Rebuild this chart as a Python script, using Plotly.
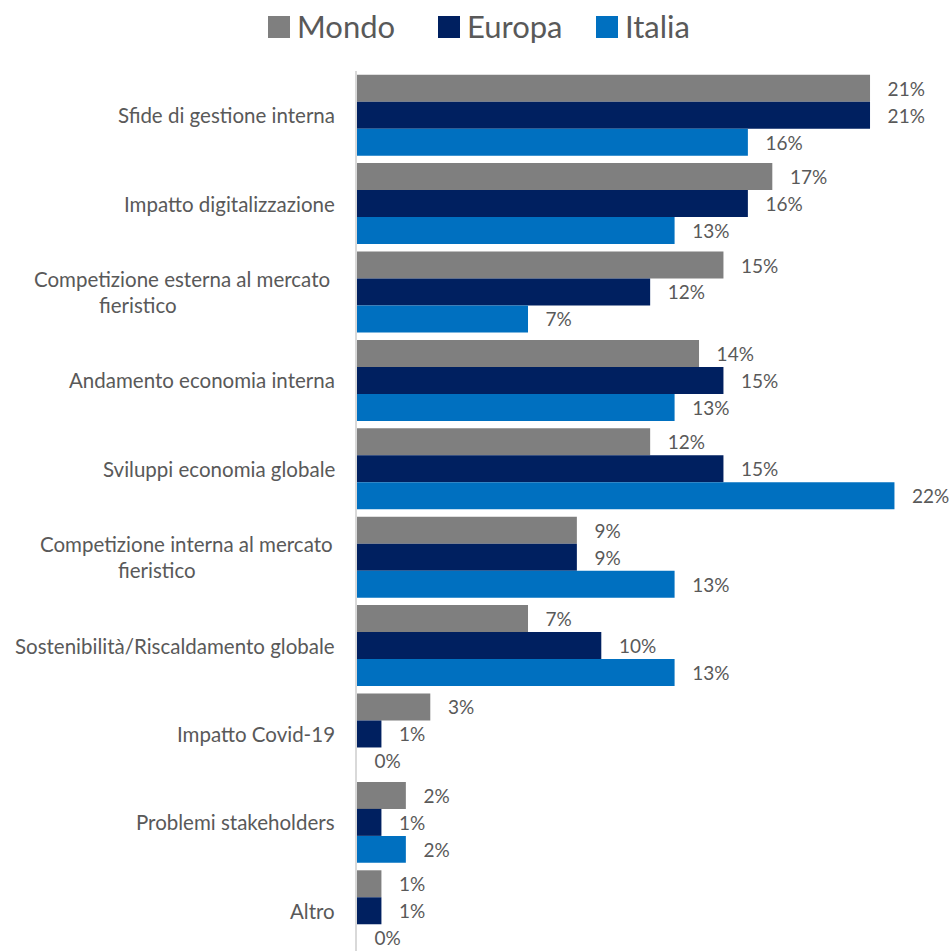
import plotly.graph_objects as go

# Survey categories, top to bottom
categories = [
    "Sfide di gestione interna",
    "Impatto digitalizzazione",
    "Competizione esterna al mercato fieristico",
    "Andamento economia interna",
    "Sviluppi economia globale",
    "Competizione interna al mercato fieristico",
    "Sostenibilità/Riscaldamento globale",
    "Impatto Covid-19",
    "Problemi stakeholders",
    "Altro",
]

# Share of answers (%) per area
mondo = [21, 17, 15, 14, 12, 9, 7, 3, 2, 1]
europa = [21, 16, 12, 15, 15, 9, 10, 1, 1, 1]
italia = [16, 13, 7, 13, 22, 13, 13, 0, 2, 0]

series_names = ["Mondo", "Europa", "Italia"]
series_colors = ["#7f7f7f", "#002060", "#0070c0"]

FONT = "Lato"
TEXT_COLOR = "#595959"
LABEL_SIZE = 20.5

# pixel geometry of the plotting area
W, H = 949, 951
L, T = 357, 71
PW, PH = W - L, H - T


def px_x(x):
    return (x - L) / PW


def px_y(y):
    return 1 - (y - T) / PH


fig = go.Figure()
for name, vals, color in zip(series_names, [mondo, europa, italia], series_colors):
    fig.add_trace(go.Bar(
        name=name,
        y=categories,
        x=vals,
        orientation="h",
        marker=dict(color=color, line=dict(width=0)),
        texttemplate="\u00a0\u00a0\u00a0%{x}%",
        textposition="outside",
        textfont=dict(family=FONT, size=19, color=TEXT_COLOR),
        cliponaxis=False,
        showlegend=False,
    ))

annotations = []
# category labels, right-aligned next to the axis
two_line = {
    "Competizione esterna al mercato fieristico": ("Competizione esterna al mercato", "fieristico", 332, 138),
    "Competizione interna al mercato fieristico": ("Competizione interna al mercato", "fieristico", 335, 157),
}
for cat in categories:
    if cat in two_line:
        l1, l2, right, center = two_line[cat]
        annotations.append(dict(
            x=0, xref="paper", y=cat, yref="y", text=l1, showarrow=False,
            xanchor="right", yanchor="middle", xshift=right - L, yshift=13,
            font=dict(family=FONT, size=LABEL_SIZE, color=TEXT_COLOR),
        ))
        annotations.append(dict(
            x=0, xref="paper", y=cat, yref="y", text=l2, showarrow=False,
            xanchor="center", yanchor="middle", xshift=center - L, yshift=-13,
            font=dict(family=FONT, size=LABEL_SIZE, color=TEXT_COLOR),
        ))
    else:
        annotations.append(dict(
            x=0, xref="paper", y=cat, yref="y", text=cat, showarrow=False,
            xanchor="right", yanchor="middle", xshift=337 - L,
            font=dict(family=FONT, size=LABEL_SIZE, color=TEXT_COLOR),
        ))

# legend drawn as coloured squares with text
shapes = []
legend_x = [268, 438, 596]
for name, color, x0 in zip(series_names, series_colors, legend_x):
    shapes.append(dict(
        type="rect", xref="paper", yref="paper",
        x0=px_x(x0), x1=px_x(x0 + 22), y0=px_y(38), y1=px_y(16),
        fillcolor=color, line=dict(width=0),
    ))
    annotations.append(dict(
        x=px_x(x0 + 27), xref="paper", y=px_y(26), yref="paper", text=name,
        showarrow=False, xanchor="left", yanchor="middle",
        font=dict(family=FONT, size=31, color=TEXT_COLOR),
    ))

fig.update_layout(
    width=W, height=H,
    margin=dict(l=L, r=0, t=T, b=0),
    paper_bgcolor="white", plot_bgcolor="white",
    barmode="group", bargap=0.084, bargroupgap=0,
    xaxis=dict(range=[0, PW / 24.43], visible=False),
    yaxis=dict(
        type="category", range=[9.455, -0.5],
        showticklabels=False, ticks="", showgrid=False, zeroline=False,
        showline=True, linecolor="#d9d9d9", linewidth=2,
    ),
    annotations=annotations,
    shapes=shapes,
    showlegend=False,
)

fig.write_html("out.html")
